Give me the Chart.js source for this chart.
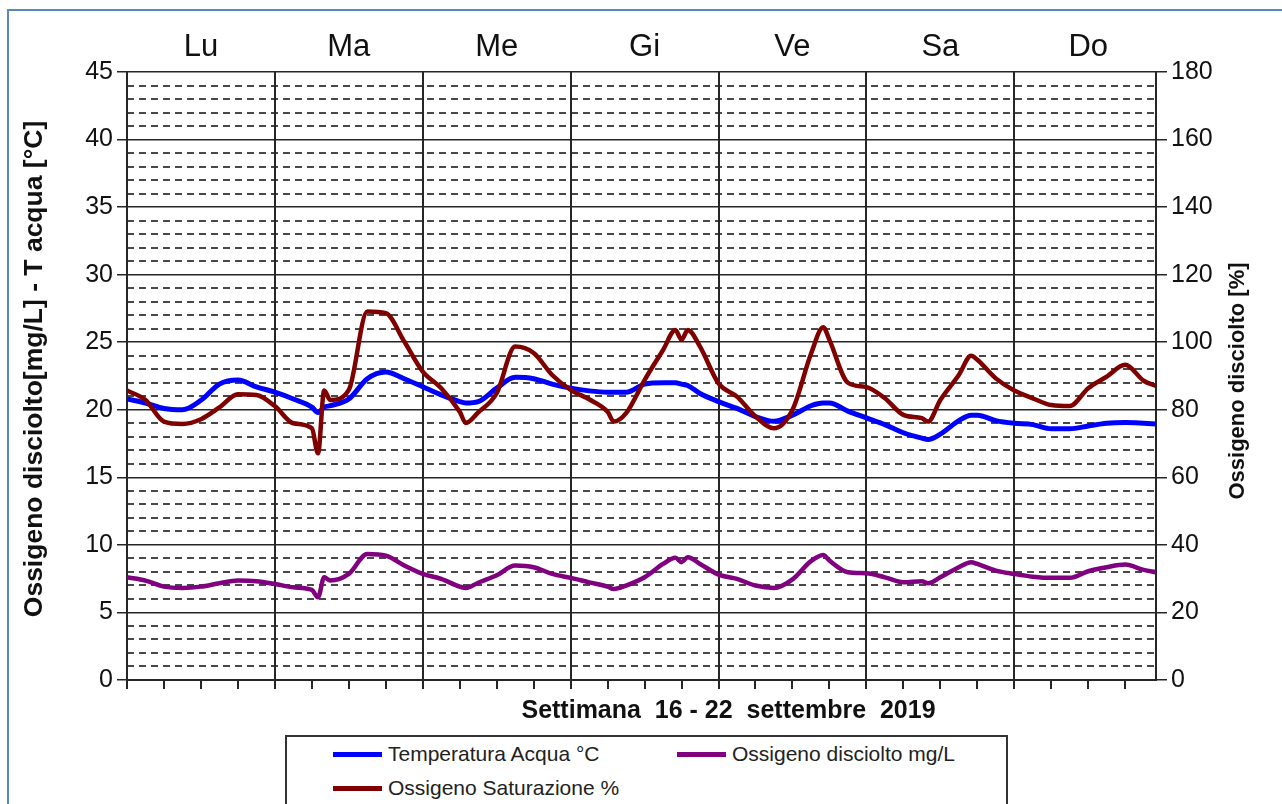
<!DOCTYPE html>
<html>
<head>
<meta charset="utf-8">
<script src="https://cdn.jsdelivr.net/npm/chart.js@4/dist/chart.umd.min.js"></script>
<style>
  body { margin: 0; background: #fff; overflow: hidden; }
  #cornice { position: absolute; left: 7px; top: 9px; width: 1400px; height: 900px; border-left: 2px solid #5a86c2; border-top: 2px solid #5a86c2; }
  #grafico { position: absolute; left: 0; top: 0; }
  #legenda { position: absolute; left: 285px; top: 735px; width: 719px; height: 100px; border: 2px solid #333; background: #fff;
             font-family: "Liberation Sans", Arial, sans-serif; font-size: 21px; color: #222; }
  .voce { position: absolute; display: flex; align-items: center; }
  .voce span.linea { display: inline-block; width: 49px; height: 5px; margin-right: 6px; }
</style>
</head>
<body>
<div id="cornice"></div>
<canvas id="grafico" width="1282" height="804"></canvas>
<div id="legenda"></div>
<script>
// ore dall'inizio della settimana (lunedi 00:00)
let ore = [0,3,6,9,12,15,18,21,24,27,30,31,32,33,36,39,42,45,48,51,54,55,57,60,63,66,69,72,75,78,79,81,84,87,89,90,91,93,96,99,102,105,108,111,113,114,117,120,123,126,129,130,132,135,137,138,141,144,147,150,153,156,159,162,165,167];

let temperatura = [20.8,20.5,20.1,20.0,20.7,21.9,22.2,21.7,21.3,20.8,20.2,19.8,20.2,20.3,20.8,22.3,22.8,22.3,21.7,21.1,20.6,20.5,20.6,21.6,22.4,22.3,21.9,21.6,21.4,21.3,21.3,21.3,21.9,22.0,22.0,21.9,21.8,21.2,20.6,20.1,19.5,19.15,19.6,20.3,20.5,20.5,19.9,19.4,18.9,18.3,17.9,17.8,18.2,19.2,19.6,19.6,19.2,19.0,18.9,18.6,18.6,18.8,19.0,19.05,19.0,18.95];

let ossigenoMgL = [7.6,7.36,6.91,6.81,6.91,7.16,7.36,7.31,7.11,6.86,6.67,6.12,7.6,7.36,7.85,9.33,9.21,8.47,7.85,7.48,6.91,6.81,7.2,7.75,8.47,8.35,7.85,7.56,7.23,6.91,6.74,6.99,7.6,8.59,9.04,8.72,9.09,8.59,7.8,7.48,6.99,6.81,7.45,8.8,9.25,8.84,7.98,7.9,7.6,7.23,7.31,7.16,7.6,8.35,8.72,8.59,8.1,7.85,7.65,7.56,7.56,8.05,8.35,8.54,8.15,7.98];

let saturazione = [85.7,82.9,76.5,75.8,77.2,80.7,84.6,84.4,81.1,76.0,74.5,67.1,85.7,82.9,85.9,109.1,108.6,100.2,91.3,86.4,79.4,76.1,79.2,84.9,98.7,96.8,90.3,85.9,83.1,79.4,76.5,79.0,88.8,97.7,103.6,100.7,103.6,98.7,87.8,83.9,78.0,74.5,80.0,96.5,104.4,100.7,88.0,86.7,83.4,78.5,77.5,76.5,82.9,90.3,96.0,94.8,89.3,85.7,83.4,81.4,81.1,86.4,89.8,93.3,88.6,87.1];

let giorni = ["Lu", "Ma", "Me", "Gi", "Ve", "Sa", "Do"];

let titoloX = "Settimana  16 - 22  settembre  2019";
let titoloSinistra = "Ossigeno disciolto[mg/L] - T acqua [°C]";
let titoloDestra = "Ossigeno disciolto [%]";

const FONT = '"Liberation Sans", Arial, sans-serif';
const NERO = '#262626';

Chart.defaults.font.family = FONT;

function punti(valori) {
    return ore.map(function (h, i) { return { x: h, y: valori[i] }; });
}

// linee tratteggiate ogni unita' (tranne le principali ogni 5)
const grigliaMinore = {
    id: 'grigliaMinore',
    beforeDraw(chart) {
        const ctx = chart.ctx;
        const area = chart.chartArea;
        const y = chart.scales.y;
        ctx.save();
        ctx.strokeStyle = '#484848';
        ctx.lineWidth = 2;
        ctx.setLineDash([7, 5]);
        for (let v = 1; v < 45; v++) {
            if (v % 5 === 0) continue;
            let py = Math.round(y.getPixelForValue(v));
            ctx.beginPath();
            ctx.moveTo(area.left, py);
            ctx.lineTo(area.right, py);
            ctx.stroke();
        }
        ctx.restore();
    }
};

// titoli degli assi
const titoli = {
    id: 'titoli',
    afterDraw(chart) {
        const ctx = chart.ctx;
        const area = chart.chartArea;
        ctx.save();
        ctx.fillStyle = '#111';
        ctx.font = 'bold 25px ' + FONT;
        ctx.textAlign = 'center';
        ctx.textBaseline = 'alphabetic';
        ctx.fillText(titoloX, (area.left + area.right) / 2 + 87, 718);

        ctx.textBaseline = 'middle';
        ctx.save();
        ctx.font = 'bold 26.5px ' + FONT;
        ctx.translate(35, 369);
        ctx.rotate(-Math.PI / 2);
        ctx.fillText(titoloSinistra, 0, 0);
        ctx.restore();

        ctx.save();
        ctx.font = 'bold 22px ' + FONT;
        ctx.translate(1238, 381);
        ctx.rotate(-Math.PI / 2);
        ctx.fillText(titoloDestra, 0, 0);
        ctx.restore();
        ctx.restore();
    }
};

let ctx = document.getElementById("grafico");
let myChart = new Chart(ctx, {
    type: "line",
    data: {
        datasets: [{
            label: "Temperatura Acqua °C",
            data: punti(temperatura),
            borderColor: "#0000ff",
            borderWidth: 5,
            yAxisID: "y",
            order: 2
        }, {
            label: "Ossigeno disciolto mg/L",
            data: punti(ossigenoMgL),
            borderColor: "#800080",
            borderWidth: 4.5,
            yAxisID: "y",
            order: 1
        }, {
            label: "Ossigeno Saturazione %",
            data: punti(saturazione),
            borderColor: "#800000",
            borderWidth: 4.5,
            yAxisID: "y1",
            order: 0
        }]
    },
    options: {
        responsive: false,
        animation: false,
        events: [],
        elements: {
            point: { radius: 0 },
            line: { cubicInterpolationMode: "monotone", fill: false }
        },
        layout: { padding: 0 },
        plugins: {
            legend: { display: false },
            tooltip: { enabled: false }
        },
        scales: {
            x: {
                type: "linear",
                position: "bottom",
                min: 0,
                max: 167,
                ticks: { stepSize: 6, display: false, includeBounds: false },
                grid: {
                    color: function (c) { return (c.tick && c.tick.value % 24 === 0) ? NERO : "rgba(0,0,0,0)"; },
                    lineWidth: 2,
                    tickColor: NERO,
                    tickLength: 9
                },
                border: { color: NERO, width: 2 },
                afterFit: function (s) { s.height = 124; }
            },
            xGiorni: {
                type: "linear",
                position: "top",
                min: 0,
                max: 167,
                afterBuildTicks: function (s) {
                    s.ticks = giorni.map(function (g, i) { return { value: 12 + 24 * i }; });
                },
                ticks: {
                    callback: function (v, i) { return giorni[i]; },
                    font: { size: 31 },
                    color: "#111",
                    padding: 6,
                    autoSkip: false,
                    maxRotation: 0
                },
                grid: { display: false, drawTicks: false },
                border: { display: false },
                afterFit: function (s) { s.height = 72; }
            },
            y: {
                position: "left",
                min: 0,
                max: 45,
                ticks: { stepSize: 5, font: { size: 25 }, color: "#111", padding: 4 },
                grid: { color: NERO, lineWidth: 1.5, tickColor: NERO, tickLength: 10 },
                border: { color: NERO, width: 2 },
                afterFit: function (s) { s.width = 127; }
            },
            y1: {
                position: "right",
                min: 0,
                max: 180,
                ticks: { stepSize: 20, font: { size: 25 }, color: "#111", padding: 4 },
                grid: { drawOnChartArea: false, color: NERO, lineWidth: 1.5, tickColor: NERO, tickLength: 11 },
                border: { color: NERO, width: 2 },
                afterFit: function (s) { s.width = 126; }
            }
        }
    },
    plugins: [grigliaMinore, titoli]
});

// legenda costruita dai dataset
let legenda = document.getElementById("legenda");
let posizioni = [[46, 18], [390, 18], [46, 52]];
myChart.data.datasets.forEach(function (ds, i) {
    let voce = document.createElement("div");
    voce.className = "voce";
    voce.style.left = posizioni[i][0] + "px";
    voce.style.top = (posizioni[i][1] - 13) + "px";
    voce.innerHTML = '<span class="linea" style="background:' + ds.borderColor + '"></span><span>' + ds.label + '</span>';
    legenda.appendChild(voce);
});
</script>
</body>
</html>
